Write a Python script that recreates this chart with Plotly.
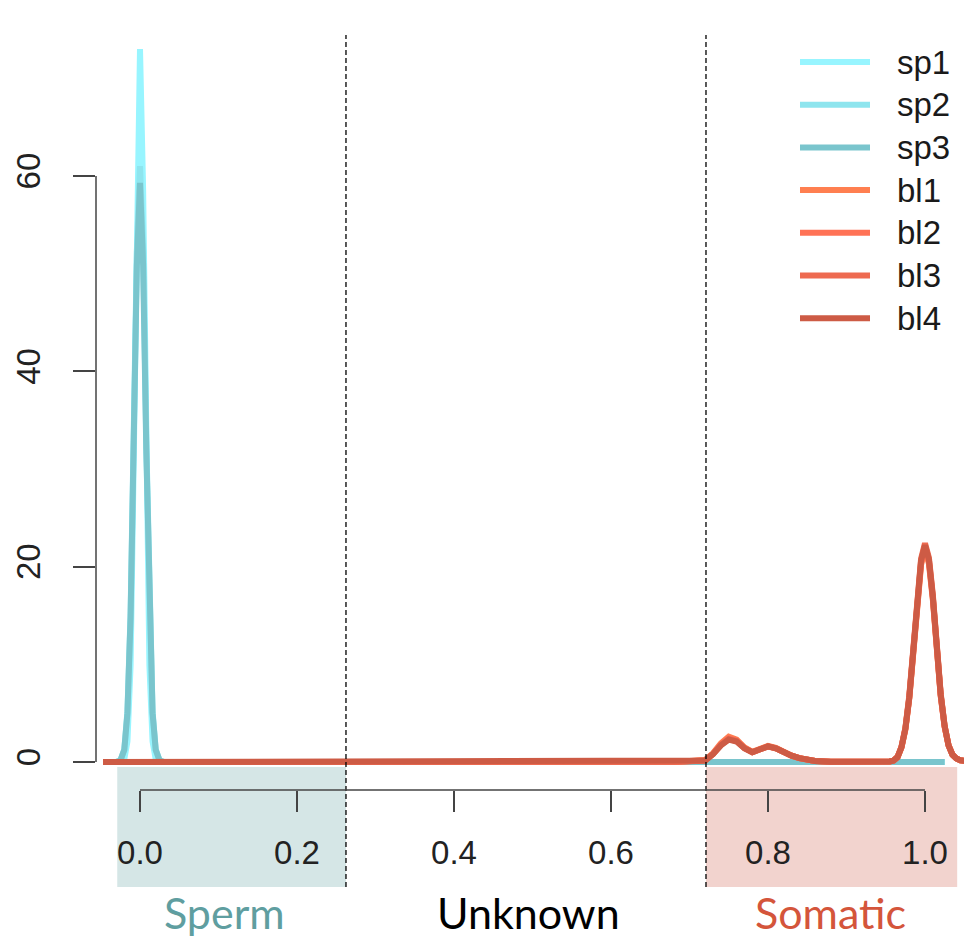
import plotly.graph_objects as go

# ---------------- data ----------------
series_names = ["sp1", "sp2", "sp3", "bl1", "bl2", "bl3", "bl4"]
series_colors = ["#98F5FF", "#8EE5EE", "#7AC5CD", "#FF7F50", "#FF7256", "#EE6A50", "#CD5B45"]

sp_x = [-0.03, -0.025, -0.02, -0.016, -0.012, -0.008, -0.004, 0.0, 0.004, 0.008, 0.012,
        0.016, 0.02, 0.025, 0.03, 0.05, 0.2, 0.4, 0.6, 0.8, 0.9, 1.0, 1.025]
sp1_y = [0.0, 0.01, 0.28, 2.1, 9.9, 30.0, 58.5, 73.0, 58.5, 30.0, 9.9,
         2.1, 0.28, 0.01, 0.0, 0.0, 0.0, 0.0, 0.0, 0.03, 0.05, 0.05, 0.0]
sp2_y = [0.01, 0.15, 1.28, 5.2, 15.2, 32.9, 52.3, 61.0, 52.3, 32.9, 15.2,
         5.2, 1.28, 0.15, 0.01, 0.0, 0.0, 0.0, 0.0, 0.04, 0.06, 0.05, 0.0]
sp3_y = [0.01, 0.14, 1.25, 5.0, 14.8, 32.0, 50.8, 59.3, 50.8, 32.0, 14.8,
         5.0, 1.25, 0.14, 0.01, 0.0, 0.0, 0.0, 0.0, 0.05, 0.07, 0.06, 0.0]

bl_x = [-0.047, 0.10, 0.20, 0.30, 0.40, 0.48, 0.50, 0.52, 0.58, 0.60, 0.62, 0.68,
        0.72, 0.73, 0.74, 0.75, 0.76, 0.77, 0.78, 0.79, 0.80, 0.81, 0.82, 0.83,
        0.84, 0.85, 0.86, 0.88, 0.90, 0.94, 0.955, 0.96, 0.965, 0.97, 0.975, 0.98,
        0.985, 0.99, 0.995, 1.0, 1.005, 1.01, 1.015, 1.02, 1.025, 1.03, 1.035, 1.04,
        1.045, 1.05, 1.06]
bl1_y = [0.0, 0.0, 0.0, 0.0, 0.01, 0.03, 0.1, 0.03, 0.02, 0.08, 0.02, 0.01,
         0.2, 0.9, 1.9, 2.6, 2.3, 1.5, 1.05, 1.35, 1.65, 1.45, 1.0, 0.65,
         0.4, 0.22, 0.1, 0.03, 0.01, 0.01, 0.05, 0.15, 0.5, 1.5, 3.3, 6.5,
         11.1, 16.4, 20.2, 21.8, 20.3, 16.6, 11.4, 6.8, 3.6, 1.7, 0.75, 0.35,
         0.18, 0.08, 0.02]
bl2_y = [0.0, 0.0, 0.0, 0.0, 0.01, 0.03, 0.09, 0.03, 0.02, 0.08, 0.02, 0.01,
         0.18, 0.85, 1.8, 2.45, 2.2, 1.45, 1.0, 1.3, 1.6, 1.4, 1.0, 0.65,
         0.4, 0.22, 0.1, 0.03, 0.01, 0.01, 0.05, 0.15, 0.5, 1.5, 3.4, 6.6,
         11.2, 16.6, 20.4, 22.0, 20.5, 16.8, 11.5, 6.8, 3.6, 1.7, 0.75, 0.35,
         0.18, 0.08, 0.02]
bl3_y = [0.0, 0.0, 0.0, 0.0, 0.01, 0.03, 0.09, 0.03, 0.02, 0.07, 0.02, 0.01,
         0.16, 0.8, 1.75, 2.35, 2.15, 1.4, 1.0, 1.3, 1.6, 1.4, 1.0, 0.65,
         0.4, 0.22, 0.1, 0.03, 0.01, 0.01, 0.05, 0.15, 0.5, 1.55, 3.5, 6.8,
         11.5, 17.0, 20.8, 22.4, 20.9, 17.1, 11.7, 7.0, 3.7, 1.7, 0.75, 0.35,
         0.18, 0.08, 0.02]
bl4_y = [0.0, 0.0, 0.0, 0.0, 0.01, 0.03, 0.09, 0.03, 0.02, 0.08, 0.02, 0.01,
         0.15, 0.8, 1.7, 2.3, 2.1, 1.4, 1.0, 1.3, 1.6, 1.4, 1.0, 0.65,
         0.4, 0.22, 0.1, 0.03, 0.01, 0.01, 0.05, 0.15, 0.5, 1.5, 3.4, 6.6,
         11.3, 16.7, 20.6, 22.2, 20.7, 16.9, 11.6, 6.9, 3.7, 1.7, 0.75, 0.35,
         0.18, 0.08, 0.02]

x_ticks = [0.0, 0.2, 0.4, 0.6, 0.8, 1.0]
y_ticks = [0, 20, 40, 60]

# region boundaries (in x data units) and labels
sperm_bounds = [-0.029, 0.2624]
somatic_bounds = [0.721, 1.041]
region_labels = ["Sperm", "Unknown", "Somatic"]
region_label_x = [0.108, 0.4955, 0.879]
region_label_colors = ["#5F9EA0", "#000000", "#D4553B"]

# ---------------- layout geometry ----------------
W, H = 964, 938
ML, MR, MT, MB = 96, 0, 19, 148
PW, PH = W - ML - MR, H - MT - MB
X0_PX, X1_PX = 140, 925       # pixel of x=0 and x=1
Y0_PX, Y60_PX = 762, 176      # pixel of y=0 and y=60
xs = (X1_PX - X0_PX) / 1.0
ys = (Y0_PX - Y60_PX) / 60.0
x_range = [-(X0_PX - ML) / xs, -(X0_PX - ML) / xs + PW / xs]
y_range = [-((H - MB) - Y0_PX) / ys, -((H - MB) - Y0_PX) / ys + PH / ys]


def px2px(px):
    return (px - ML) / PW


def py2py(py):
    return ((H - MB) - py) / PH


fig = go.Figure()
ys_all = [sp1_y, sp2_y, sp3_y, bl1_y, bl2_y, bl3_y, bl4_y]
xs_all = [sp_x, sp_x, sp_x, bl_x, bl_x, bl_x, bl_x]
for name, col, xv, yv in zip(series_names, series_colors, xs_all, ys_all):
    fig.add_trace(go.Scatter(x=xv, y=yv, mode="lines", name=name,
                             line=dict(color=col, width=6), showlegend=False))

shapes = []
shapes.append(dict(type="rect", xref="x", yref="paper", x0=sperm_bounds[0], x1=sperm_bounds[1],
                   y0=py2py(887), y1=py2py(767), fillcolor="#D5E6E6", line=dict(width=0), layer="below"))
shapes.append(dict(type="rect", xref="x", yref="paper", x0=somatic_bounds[0], x1=somatic_bounds[1],
                   y0=py2py(887), y1=py2py(767), fillcolor="#F2D3CE", line=dict(width=0), layer="below"))
for xb in [sperm_bounds[1], somatic_bounds[0]]:
    shapes.append(dict(type="line", xref="x", yref="paper", x0=xb, x1=xb,
                       y0=py2py(887), y1=py2py(35), line=dict(color="#000000", width=1.3, dash="5px,3px"),
                       layer="above"))
shapes.append(dict(type="line", xref="x", yref="paper", x0=x_ticks[0], x1=x_ticks[-1], y0=0, y1=0,
                   line=dict(color="#444444", width=1.5), layer="above"))
shapes.append(dict(type="line", xref="paper", yref="y", x0=0, x1=0, y0=y_ticks[0], y1=y_ticks[-1],
                   line=dict(color="#444444", width=1.5), layer="above"))

annotations = []
for i, (name, col) in enumerate(zip(series_names, series_colors)):
    yp = py2py(62 + i * 42.7)
    shapes.append(dict(type="line", xref="paper", yref="paper", x0=px2px(800), x1=px2px(870),
                       y0=yp, y1=yp, line=dict(color=col, width=6)))
    annotations.append(dict(xref="paper", yref="paper", x=px2px(895), y=yp, text=name,
                            showarrow=False, xanchor="left", yanchor="middle",
                            font=dict(family="Liberation Sans", size=33, color="#1a1a1a")))
for lab, xl, col in zip(region_labels, region_label_x, region_label_colors):
    annotations.append(dict(xref="x", yref="paper", x=xl, y=py2py(913), text=lab, showarrow=False,
                            xanchor="center", yanchor="middle",
                            font=dict(family="Lato", size=43, color=col)))

fig.update_layout(
    width=W, height=H, margin=dict(l=ML, r=MR, t=MT, b=MB),
    paper_bgcolor="white", plot_bgcolor="white",
    shapes=shapes, annotations=annotations, showlegend=False,
    xaxis=dict(range=x_range, tickvals=x_ticks, tickformat=".1f", showgrid=False, zeroline=False,
               showline=False, ticks="outside", ticklen=21, tickwidth=1.5, tickcolor="#444444",
               ticklabelstandoff=12,
               tickfont=dict(family="Liberation Sans", size=33, color="#222222")),
    yaxis=dict(range=y_range, tickvals=y_ticks, showgrid=False, zeroline=False,
               showline=False, ticks="outside", ticklen=22, tickwidth=1.5, tickcolor="#444444",
               tickangle=-90, ticklabelstandoff=20,
               tickfont=dict(family="Liberation Sans", size=33, color="#222222")),
)

fig.write_html("out.html")
